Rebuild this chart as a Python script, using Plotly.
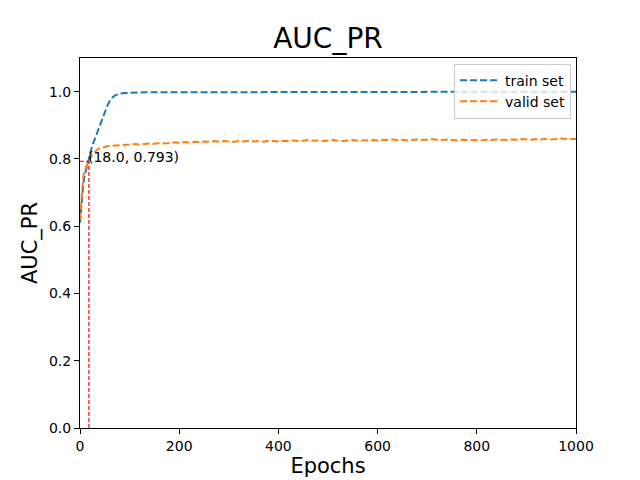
import plotly.graph_objects as go

# epochs sampled from the curves (dense at the start, every 10 after 100)
early_epochs = [0, 2, 4, 6, 8, 10, 12, 14, 16, 18, 20, 25, 30, 35, 40, 45,
                50, 55, 60, 65, 70, 75, 80, 90]
epochs = early_epochs + list(range(100, 1001, 10))

train_auc_pr = [
    0.610, 0.650, 0.685, 0.715, 0.740, 0.755, 0.770, 0.780, 0.790, 0.800,
    0.815, 0.840, 0.860, 0.880, 0.900, 0.920, 0.940, 0.958, 0.972, 0.982,
    0.988, 0.992, 0.994, 0.996,
    # 100 - 190
    0.997, 0.997, 0.997, 0.998, 0.998, 0.998, 0.998, 0.998, 0.998, 0.998,
    # 200 - 290
    0.998, 0.998, 0.998, 0.998, 0.999, 0.999, 0.999, 0.999, 0.999, 0.999,
    # 300 - 390
    0.999, 0.999, 0.999, 0.999, 0.999, 0.999, 0.999, 0.999, 0.999, 0.999,
    # 400 - 490
    0.999, 0.999, 0.999, 0.999, 0.999, 0.999, 0.999, 0.999, 0.999, 0.999,
    # 500 - 590
    0.999, 0.999, 0.999, 0.999, 0.999, 0.999, 0.999, 0.999, 1.000, 1.000,
    # 600 - 690
    1.000, 1.000, 1.000, 1.000, 1.000, 1.000, 1.000, 1.000, 1.000, 1.000,
    # 700 - 790
    1.000, 1.000, 1.000, 1.000, 1.000, 1.000, 1.000, 1.000, 1.000, 1.000,
    # 800 - 890
    1.000, 1.000, 1.000, 1.000, 1.000, 1.000, 1.000, 1.000, 1.000, 1.000,
    # 900 - 1000
    1.000, 1.000, 1.000, 1.000, 1.000, 1.000, 1.000, 1.000, 1.000, 1.000,
    1.000,
]

valid_auc_pr = [
    0.620, 0.670, 0.710, 0.740, 0.757, 0.768, 0.777, 0.783, 0.789, 0.793,
    0.799, 0.813, 0.822, 0.828, 0.832, 0.834, 0.836, 0.838, 0.839, 0.839,
    0.840, 0.841, 0.841, 0.842,
    # 100 - 190
    0.842, 0.844, 0.843, 0.845, 0.846, 0.845, 0.847, 0.846, 0.848, 0.849,
    # 200 - 290
    0.848, 0.850, 0.849, 0.851, 0.850, 0.852, 0.851, 0.853, 0.851, 0.853,
    # 300 - 390
    0.852, 0.851, 0.853, 0.852, 0.854, 0.852, 0.853, 0.851, 0.854, 0.853,
    # 400 - 490
    0.852, 0.854, 0.853, 0.855, 0.853, 0.854, 0.856, 0.854, 0.855, 0.853,
    # 500 - 590
    0.855, 0.856, 0.854, 0.853, 0.855, 0.856, 0.854, 0.855, 0.857, 0.856,
    # 600 - 690
    0.855, 0.857, 0.856, 0.858, 0.856, 0.857, 0.855, 0.857, 0.858, 0.856,
    # 700 - 790
    0.857, 0.859, 0.857, 0.856, 0.858, 0.857, 0.855, 0.857, 0.856, 0.855,
    # 800 - 890
    0.856, 0.855, 0.857, 0.856, 0.858, 0.857, 0.856, 0.858, 0.857, 0.859,
    # 900 - 1000
    0.858, 0.857, 0.859, 0.858, 0.860, 0.858, 0.859, 0.861, 0.859, 0.860,
    0.859,
]

# marked point on the valid curve
best_epoch = 18.0
best_value = 0.793

x_ticks = [0, 200, 400, 600, 800, 1000]
y_ticks = [0.0, 0.2, 0.4, 0.6, 0.8, 1.0]

font_family = "DejaVu Sans"

fig = go.Figure()

fig.add_trace(go.Scatter(
    x=epochs, y=train_auc_pr, mode="lines", name="train set",
    line=dict(color="#1f77b4", width=2, dash="7px,3px"),
))
fig.add_trace(go.Scatter(
    x=epochs, y=valid_auc_pr, mode="lines", name="valid set",
    line=dict(color="#ff7f0e", width=2, dash="7px,3px"),
))

# red guide lines down to the axes
fig.add_shape(type="line", x0=best_epoch, x1=best_epoch, y0=0, y1=best_value,
              line=dict(color="red", width=1.2, dash="4px,2px"))
fig.add_shape(type="line", x0=0, x1=best_epoch, y0=best_value, y1=best_value,
              line=dict(color="red", width=1.2, dash="4px,2px"))

fig.add_annotation(
    x=best_epoch, y=best_value, text=f"({best_epoch}, {best_value})",
    showarrow=False, xanchor="left", yanchor="bottom", yshift=-6, xshift=-3,
    font=dict(family=font_family, size=14, color="black"),
)

fig.update_layout(
    width=640, height=480,
    margin=dict(l=80, r=64, t=58, b=52, autoexpand=False),
    paper_bgcolor="white", plot_bgcolor="white",
    font=dict(family=font_family, size=14, color="black"),
    title=dict(text="AUC_PR", x=0.5, xref="paper", xanchor="center",
               y=1, yref="paper", yanchor="bottom", pad=dict(b=10),
               automargin=False, font=dict(size=28, color="black")),
    legend=dict(x=0.99, y=0.985, xanchor="right", yanchor="top",
                bgcolor="rgba(255,255,255,0.8)", bordercolor="#cccccc",
                borderwidth=1, font=dict(size=14), tracegroupgap=0,
                itemwidth=40),
    showlegend=True,
)

fig.update_xaxes(
    range=[0, 1000], tickvals=x_ticks, showgrid=False, zeroline=False,
    showline=True, linecolor="black", linewidth=1, mirror=True,
    ticks="outside", ticklen=5, tickcolor="black", automargin=False,
    title=dict(text="Epochs", font=dict(size=21), standoff=4),
)
fig.update_yaxes(
    range=[0, 1.1], tickvals=y_ticks, tickformat=".1f", showgrid=False,
    zeroline=False, showline=True, linecolor="black", linewidth=1, mirror=True,
    ticks="outside", ticklen=5, tickcolor="black", automargin=False,
    title=dict(text="AUC_PR", font=dict(size=21), standoff=5),
)

# the page body has a default 8px margin; remove it so the figure sits at 0,0
fig.write_html("out.html", config={"displayModeBar": False},
               post_script="document.body.style.margin='0';")
